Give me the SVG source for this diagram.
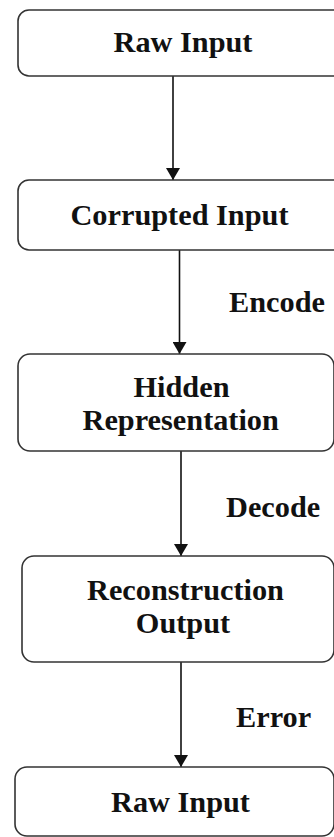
<svg xmlns="http://www.w3.org/2000/svg" width="334" height="837" viewBox="0 0 334 837">
<style>
.box{fill:#fff;stroke:#333;stroke-width:1.6}
text{font-family:'Liberation Serif','Times New Roman','DejaVu Serif',serif;font-weight:700;font-size:30.3px;fill:#111}
.t{text-anchor:middle}
.c{stroke:#111;stroke-width:1.6;fill:none}
</style>
<defs>
<marker id="ah" viewBox="0 0 12 14" refX="12" refY="7" markerWidth="12" markerHeight="14" markerUnits="userSpaceOnUse" orient="auto">
<path d="M0,0 L12,7 L0,14 Z" fill="#111"/>
</marker>
</defs>
<rect width="334" height="837" fill="#fff"/>
<g id="connectors">
<line class="c" x1="173" y1="76" x2="173" y2="180" marker-end="url(#ah)"/>
<line class="c" x1="179.5" y1="250" x2="179.5" y2="354" marker-end="url(#ah)"/>
<line class="c" x1="181" y1="451" x2="181" y2="556" marker-end="url(#ah)"/>
<line class="c" x1="181" y1="662" x2="181" y2="767" marker-end="url(#ah)"/>
<text x="229" y="312">Encode</text>
<text x="226" y="517">Decode</text>
<text x="236" y="727">Error</text>
</g>
<g id="raw-input-1">
<rect class="box" x="18" y="10" width="330" height="66" rx="11"/>
<text class="t" x="183" y="52">Raw Input</text>
</g>
<g id="corrupted-input">
<rect class="box" x="18" y="180" width="330" height="70" rx="11"/>
<text class="t" x="179.5" y="225">Corrupted Input</text>
</g>
<g id="hidden-representation">
<rect class="box" x="18" y="354" width="316" height="97" rx="12"/>
<text class="t" x="181.5" y="397">Hidden</text>
<text class="t" x="180.7" y="430">Representation</text>
</g>
<g id="reconstruction-output">
<rect class="box" x="22" y="556" width="312" height="106" rx="12"/>
<text class="t" x="185.5" y="600">Reconstruction</text>
<text class="t" x="183" y="633">Output</text>
</g>
<g id="raw-input-2">
<rect class="box" x="15" y="767" width="319" height="69" rx="12"/>
<text class="t" x="180.5" y="812">Raw Input</text>
</g>
</svg>
